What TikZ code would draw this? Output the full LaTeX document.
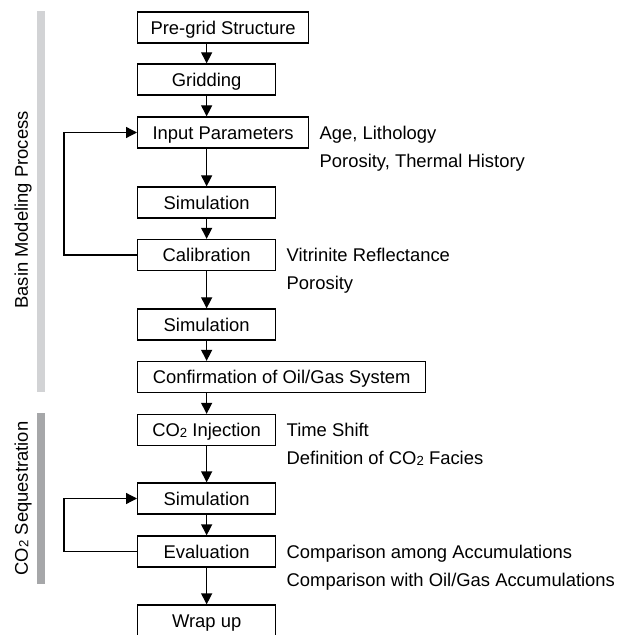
\documentclass[tikz,border=0pt]{standalone}
\usepackage{fontspec}
\setmainfont{Liberation Sans}
\usetikzlibrary{arrows.meta}
\definecolor{barlight}{RGB}{210,211,213}
\definecolor{bardark}{RGB}{166,167,169}
\newcommand{\cotwo}{CO\raisebox{-0.3pt}{\fontsize{6.6}{6.6}\selectfont 2}}
\tikzset{
	box/.style={draw, line width=0.65pt, minimum width=69pt, minimum height=15.5pt, inner sep=0pt, text height=6.6pt, text depth=0pt, anchor=west},
	note/.style={align=left, anchor=north west, inner sep=0pt},
	arr/.style={line width=0.65pt, -{Triangle[length=5.5pt,width=5.5pt]}},
}
\begin{document}
\begin{tikzpicture}[x=0.5pt, y=-0.5pt, font=\fontsize{9.2}{13.8}\selectfont]
			\useasboundingbox (0,0) rectangle (629,635);
			% side bars
			\fill[barlight] (37,11) rectangle (45,392);
			\fill[bardark] (37,413) rectangle (45,584);
			\node[rotate=90] (basinlabel) at (23,210) {Basin Modeling Process};
			\node[rotate=90] (co2label) at (23,498.5) {\cotwo{} Sequestration};
			% boxes
			\node[box, minimum width=85.5pt] (pregrid) at (137,27.5) {Pre-grid Structure};
			\node[box, minimum width=85.5pt] (input) at (137,132.5) {Input Parameters};
			\node[box, minimum width=144pt] (confirm) at (137,377) {Confirmation of Oil/Gas System};
			\foreach \n/\y/\t in {grid/79.5/Gridding, sim1/202.5/Simulation, calib/255/Calibration, sim2/324.5/Simulation, inject/430/\cotwo{} Injection, sim3/498.5/Simulation, eval/551.5/Evaluation, wrap/620.5/Wrap up}{
				\node[box] (\n) at (137,\y) {\t};
			}
			% notes
			\node[note] (inputnote) at ([xshift=5pt, yshift=3.4pt]input.east) {Age, Lithology\\Porosity, Thermal History};
			\node[note] (calibnote) at ([xshift=5pt, yshift=3.4pt]calib.east) {Vitrinite Reflectance\\Porosity};
			\node[note] (injectnote) at ([xshift=5pt, yshift=3.4pt]inject.east) {Time Shift\\Definition of \cotwo{} Facies};
			\node[note] (evalnote) at ([xshift=5pt, yshift=3.4pt]eval.east) {Comparison among Accumulations\\Comparison with Oil/Gas Accumulations};
			% arrows
			\foreach \a/\b in {pregrid/grid, grid/input, input/sim1, sim1/calib, calib/sim2, sim2/confirm, confirm/inject, inject/sim3, sim3/eval, eval/wrap}{
				\draw[arr] (\a.south -| grid.south) -- (\b.north -| grid.north);
			}
			\draw[arr] (calib.west) -- ++(-36.5pt,0) |- (input.west);
			\draw[arr] (eval.west) -- ++(-36.5pt,0) |- (sim3.west);
		\end{tikzpicture}
\end{document}
